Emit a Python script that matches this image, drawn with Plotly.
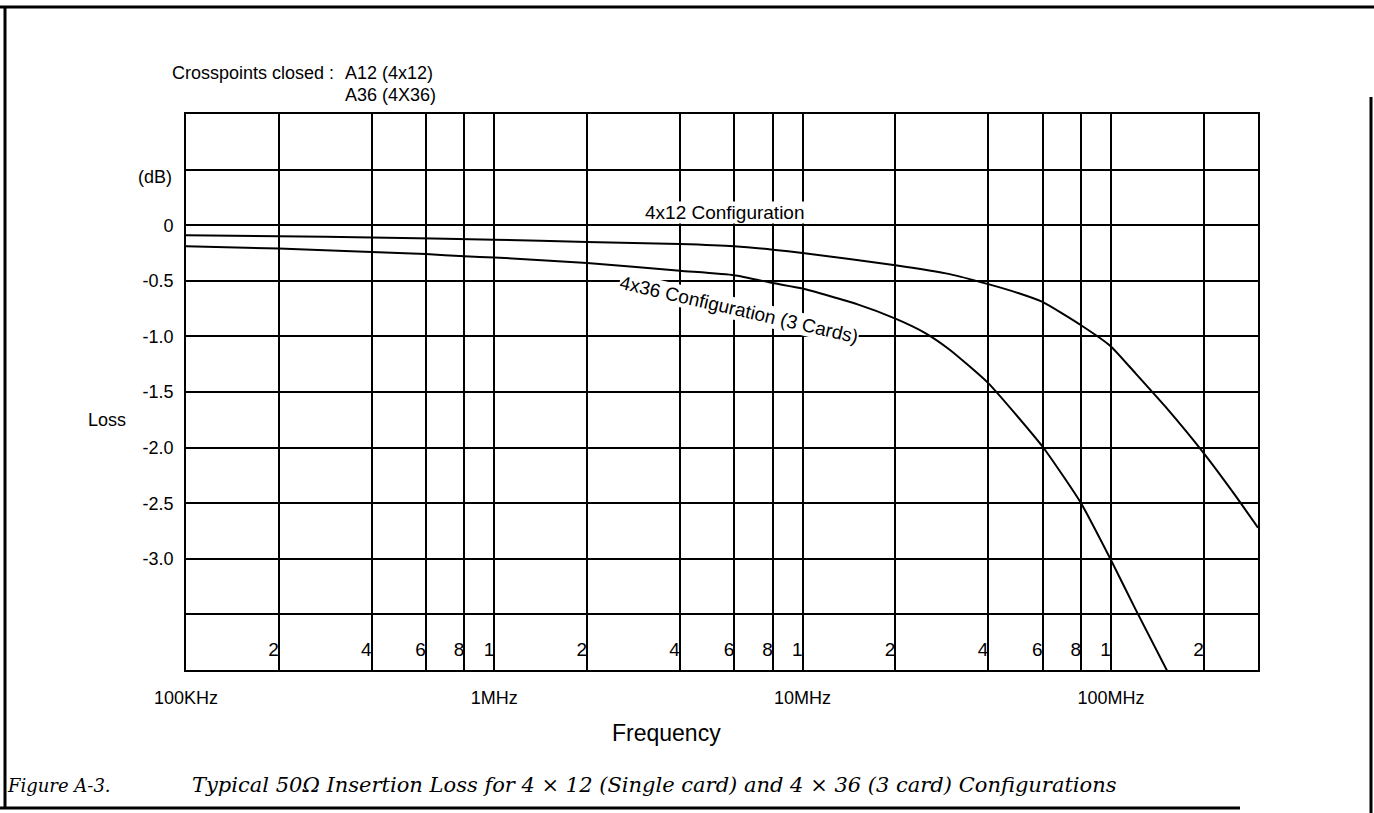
import numpy as np
import plotly.graph_objects as go

# frequency points (Hz) and loss (dB)
freq_4x12 = [1e5, 2e5, 4e5, 1e6, 2e6, 4e6, 6e6, 8e6, 1e7, 2e7, 3e7, 4e7, 5e7, 6e7,
             8e7, 1e8, 1.2e8, 1.5e8, 2e8, 2.5e8, 3e8]
loss_4x12 = [-0.09, -0.10, -0.11, -0.13, -0.15, -0.17, -0.19, -0.22, -0.25, -0.36,
             -0.44, -0.53, -0.61, -0.69, -0.90, -1.09, -1.33, -1.63, -2.05, -2.41, -2.72]

freq_4x36 = [1e5, 2e5, 4e5, 6e5, 8e5, 1e6, 2e6, 4e6, 6e6, 8e6, 1e7, 1.5e7, 2e7, 2.5e7,
             3e7, 4e7, 6e7, 8e7, 1e8, 1.2e8, 1.55e8]
loss_4x36 = [-0.19, -0.21, -0.24, -0.26, -0.28, -0.29, -0.34, -0.41, -0.45, -0.52,
             -0.57, -0.71, -0.84, -0.97, -1.12, -1.42, -1.99, -2.50, -3.01, -3.45, -4.05]

# grid / tick values
grid_freqs = [1e5, 2e5, 4e5, 6e5, 8e5, 1e6, 2e6, 4e6, 6e6, 8e6, 1e7, 2e7, 4e7, 6e7,
              8e7, 1e8, 2e8]
grid_text = ["100KHz", "", "", "", "", "1MHz", "", "", "", "", "10MHz", "", "", "", "",
             "100MHz", ""]
minor_freqs = [2e5, 4e5, 6e5, 8e5, 1e6, 2e6, 4e6, 6e6, 8e6, 1e7, 2e7, 4e7, 6e7, 8e7,
               1e8, 2e8]
minor_text = ["2", "4", "6", "8", "1", "2", "4", "6", "8", "1", "2", "4", "6", "8",
              "1", "2"]
loss_ticks = [-4.0, -3.5, -3.0, -2.5, -2.0, -1.5, -1.0, -0.5, 0.0, 0.5, 1.0]
loss_text = ["", "", "-3.0", "-2.5", "-2.0", "-1.5", "-1.0", "-0.5", "0", "", ""]

SANS = "Liberation Sans, Arial, sans-serif"
SERIF = "DejaVu Serif, serif"

fig = go.Figure()

fig.add_trace(go.Scatter(x=freq_4x12, y=loss_4x12, mode="lines", name="4x12",
                         line=dict(color="black", width=2, shape="spline", smoothing=0.5)))
fig.add_trace(go.Scatter(x=freq_4x36, y=loss_4x36, mode="lines", name="4x36",
                         line=dict(color="black", width=2, shape="spline", smoothing=0.5)))

# small decade digits inside the bottom of the grid
fig.add_trace(go.Scatter(x=minor_freqs, y=[-3.83] * len(minor_freqs), mode="text",
                         text=minor_text, textposition="middle left",
                         textfont=dict(family=SANS, size=19, color="black"),
                         hoverinfo="skip"))


def px(v):
    return (v - 186) / 1072


def py(v):
    return (670 - v) / 556


annotations = [
    dict(text="Crosspoints closed :", x=170, y=73),
    dict(text="A12 (4x12)", x=343, y=73),
    dict(text="A36 (4X36)", x=343, y=95),
    dict(text="(dB)", x=174, y=177, xanchor="right"),
    dict(text="Loss", x=86, y=420),
    dict(text="Frequency", x=610, y=733, size=23),
]
ann = []
for a in annotations:
    ann.append(dict(text=a["text"], xref="paper", yref="paper",
                    x=px(a["x"]), y=py(a["y"]),
                    xanchor=a.get("xanchor", "left"), yanchor="middle", showarrow=False,
                    font=dict(family=SANS, size=a.get("size", 18), color="black")))

# curve labels
ann.append(dict(text="4x12 Configuration", x=np.log10(5.6e6), y=0.11, xref="x", yref="y",
                showarrow=False, bgcolor="white", borderpad=0,
                font=dict(family=SANS, size=19, color="black")))
ann.append(dict(text="4x36 Configuration (3 Cards)", x=np.log10(6.2e6), y=-0.76,
                xref="x", yref="y", showarrow=False, textangle=13, bgcolor="white",
                borderpad=0, font=dict(family=SANS, size=19, color="black")))

# caption
ann.append(dict(text="<i>Figure A-3.</i>", xref="paper", yref="paper",
                x=px(5), y=py(785), xanchor="left", yanchor="middle",
                showarrow=False, font=dict(family=SERIF, size=18, color="black")))
ann.append(dict(text="<i>Typical 50\u03a9 Insertion Loss for 4 \u00d7 12 (Single card) and "
                     "4 \u00d7 36 (3 card) Configurations</i>",
                xref="paper", yref="paper", x=px(190), y=py(785),
                xanchor="left", yanchor="middle", showarrow=False,
                font=dict(family=SERIF, size=21, color="black")))

frame = dict(color="black", width=3)
shapes = [
    dict(type="line", xref="paper", yref="paper", x0=px(0), x1=px(1374), y0=py(7), y1=py(7), line=frame),
    dict(type="line", xref="paper", yref="paper", x0=px(5), x1=px(5), y0=py(7), y1=py(808), line=frame),
    dict(type="line", xref="paper", yref="paper", x0=px(0), x1=px(1240), y0=py(808), y1=py(808), line=frame),
    dict(type="line", xref="paper", yref="paper", x0=px(1371), x1=px(1371), y0=py(97), y1=py(813), line=frame),
]

fig.update_layout(
    width=1374, height=813, autosize=False,
    paper_bgcolor="white", plot_bgcolor="white",
    margin=dict(l=186, r=116, t=114, b=143),
    showlegend=False,
    annotations=ann, shapes=shapes,
    xaxis=dict(type="log", range=[5, np.log10(3e8)], tickvals=grid_freqs, ticktext=grid_text,
               showgrid=True, gridcolor="black", gridwidth=1.5, zeroline=False,
               showline=True, mirror=True, linecolor="black", linewidth=1.8,
               ticks="", ticklabelstandoff=10,
               tickfont=dict(family=SANS, size=18, color="black")),
    yaxis=dict(range=[-4, 1], tickvals=loss_ticks, ticktext=loss_text,
               showgrid=True, gridcolor="black", gridwidth=1.5, zeroline=False,
               showline=True, mirror=True, linecolor="black", linewidth=1.8,
               ticks="", ticklabelstandoff=7,
               tickfont=dict(family=SANS, size=18, color="black")),
)

fig.write_html("out.html", config={"displayModeBar": False},
               post_script="document.body.style.margin='0';")
